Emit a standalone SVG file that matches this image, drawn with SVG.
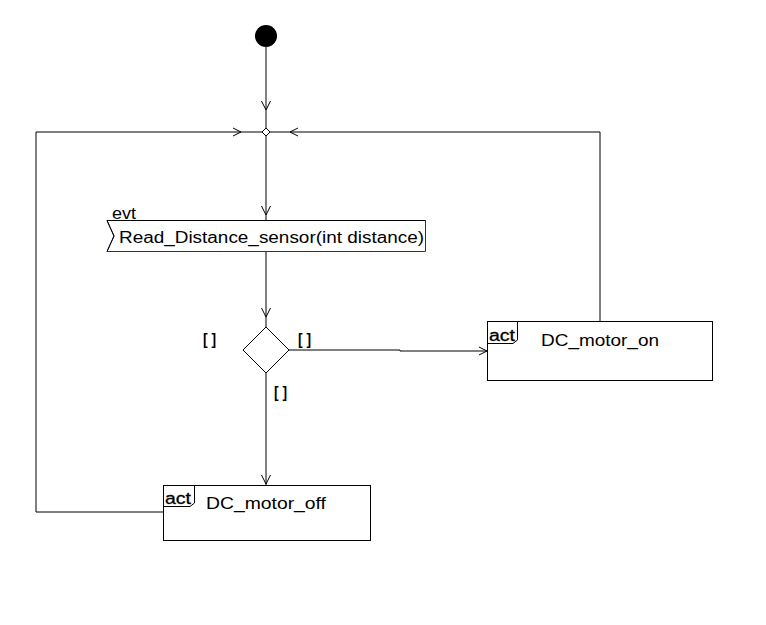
<svg xmlns="http://www.w3.org/2000/svg" width="766" height="625" viewBox="0 0 766 625">
<style>
.ln{fill:none;stroke:#000;stroke-width:1}
.ah{fill:none;stroke:#000;stroke-width:1}
.box{fill:#fff;stroke:#000;stroke-width:1}
.t{font-family:"Liberation Sans",Arial,sans-serif;fill:#000}
.tag{font-family:"Liberation Sans",Arial,sans-serif;font-weight:bold;font-size:17px;fill:#000}
.act{font-family:"Liberation Sans",Arial,sans-serif;font-size:16px;fill:#000;stroke:#000;stroke-width:0.3}
</style>
<rect width="766" height="625" fill="#fff"/>
<g id="connectors">
  <path class="ln" d="M266,47 V128"/>
  <polyline class="ah" points="261.5,101 266,110 270.5,101"/>
  <path class="ln" d="M36,132 H262"/>
  <polyline class="ah" points="233,128 241,132 233,136"/>
  <path class="ln" d="M600,321 V132 H270"/>
  <polyline class="ah" points="298,128 290,132 298,136"/>
  <path class="ln" d="M163,512 H36 V132"/>
  <path class="ln" d="M266,136 V220"/>
  <polyline class="ah" points="261.5,206 266,215 270.5,206"/>
  <path class="ln" d="M266,252 V327"/>
  <polyline class="ah" points="261.5,308 266,317 270.5,308"/>
  <path class="ln" d="M289,350 H400 V351 H487"/>
  <polyline class="ah" points="479,347 487,351 479,355"/>
  <path class="ln" d="M266,373 V485"/>
  <polyline class="ah" points="261.5,475 266,484 270.5,475"/>
  <text class="tag" x="203" y="345" textLength="13" lengthAdjust="spacingAndGlyphs">[ ]</text>
  <text class="tag" x="298" y="345" textLength="13" lengthAdjust="spacingAndGlyphs">[ ]</text>
  <text class="tag" x="274" y="398" textLength="13" lengthAdjust="spacingAndGlyphs">[ ]</text>
</g>
<g id="start">
  <circle cx="266" cy="36" r="11" fill="#000"/>
</g>
<g id="merge">
  <polygon class="box" points="266,128 270,132 266,136 262,132"/>
</g>
<g id="event">
  <path d="M107,220.5 H425.5 V251.5 H107 L114,236 Z" fill="#fff" stroke="#4a1a8a" stroke-width="1"/>
  <path d="M425.5,220.5 H107 L114,236 L107,251.5" fill="none" stroke="#000" stroke-width="1"/>
  <text class="t" x="112" y="219" font-size="16" textLength="24" lengthAdjust="spacingAndGlyphs">evt</text>
  <text class="t" x="119" y="243" font-size="16" textLength="305" lengthAdjust="spacingAndGlyphs">Read_Distance_sensor(int distance)</text>
</g>
<g id="decision">
  <polygon class="box" points="266,327 289,350 266,373 243,350"/>
</g>
<g id="dc_motor_on">
  <rect class="box" x="487.5" y="321.5" width="225" height="59"/>
  <path class="ln" d="M517.5,321.5 V340 L513,343.5 H487.5"/>
  <text class="act" x="489" y="341" textLength="26" lengthAdjust="spacingAndGlyphs">act</text>
  <text class="t" x="541" y="346" font-size="16" textLength="118" lengthAdjust="spacingAndGlyphs">DC_motor_on</text>
</g>
<g id="dc_motor_off">
  <rect class="box" x="163.5" y="485.5" width="207" height="55"/>
  <path class="ln" d="M194.5,485.5 V503 L190,506.5 H163.5"/>
  <text class="act" x="165" y="504" textLength="26" lengthAdjust="spacingAndGlyphs">act</text>
  <text class="t" x="206" y="509" font-size="16" textLength="120" lengthAdjust="spacingAndGlyphs">DC_motor_off</text>
</g>
</svg>
